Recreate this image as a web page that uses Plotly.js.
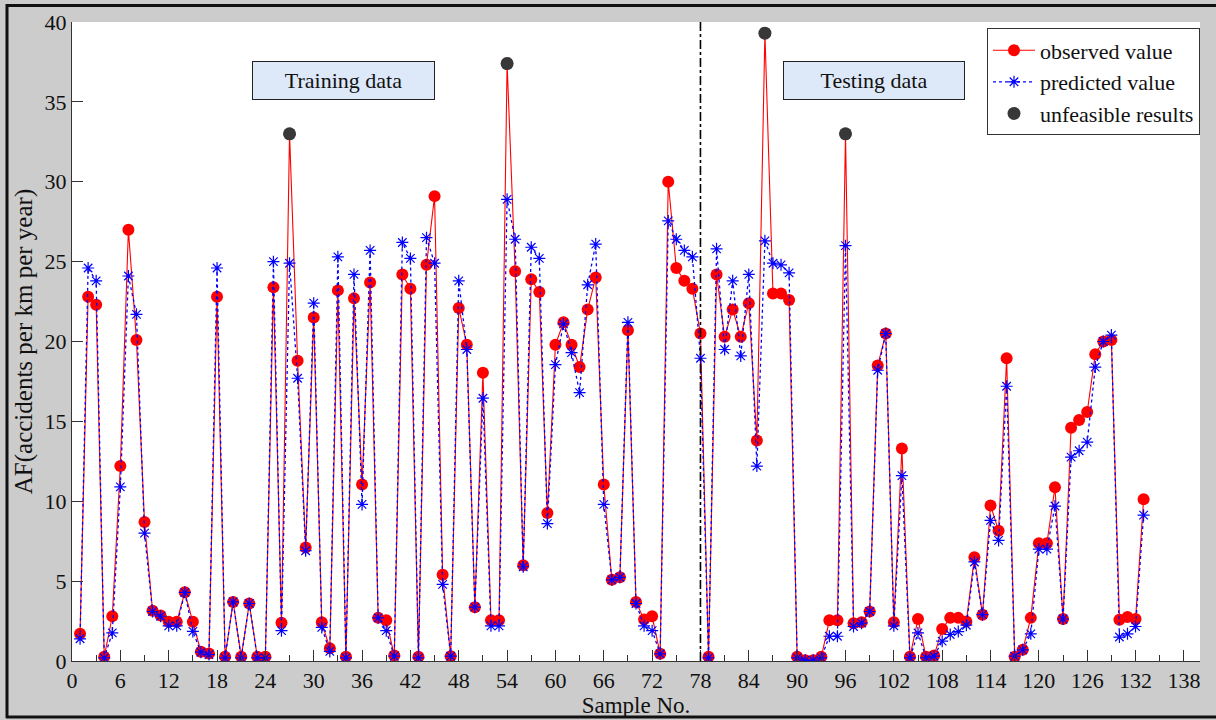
<!DOCTYPE html>
<html>
<head>
<meta charset="utf-8">
<script src="https://cdn.plot.ly/plotly-3.0.1.min.js"></script>
<style>
  html, body { margin: 0; padding: 0; background: #cccccc; }
  #chart { width: 1216px; height: 720px; }
</style>
</head>
<body>
<div id="chart"></div>
<script>
// Observed AF values, samples 1..133
const observed = [
  1.7, 22.8, 22.3, 0.26, 2.8, 12.2, 27.0, 20.1, 8.7, 3.15,
  2.85, 2.45, 2.45, 4.3, 2.45, 0.58, 0.47, 22.8, 0.26, 3.7,
  0.26, 3.6, 0.26, 0.26, 23.4, 2.4, 33.0, 18.8, 7.1, 21.5,
  2.42, 0.8, 23.2, 0.26, 22.7, 11.05, 23.7, 2.7, 2.55, 0.34,
  24.2, 23.3, 0.26, 24.8, 29.1, 5.4, 0.3, 22.1, 19.8, 3.37,
  18.05, 2.55, 2.55, 37.4, 24.4, 6.0, 23.9, 23.1, 9.26, 19.8,
  21.2, 19.8, 18.4, 22.0, 24.0, 11.05, 5.08, 5.24, 20.7, 3.7,
  2.6, 2.8, 0.45, 30.0, 24.6, 23.8, 23.3, 20.5, 0.26, 24.2,
  20.3, 22.0, 20.3, 22.4, 13.8, 39.3, 23.0, 23.0, 22.6, 0.26,
  0.05, 0.05, 0.26, 2.55, 2.55, 33.0, 2.37, 2.42, 3.1, 18.5,
  20.5, 2.42, 13.3, 0.26, 2.63, 0.26, 0.34, 2.0, 2.7, 2.7,
  2.47, 6.5, 2.9, 9.74, 8.16, 18.95, 0.26, 0.7, 2.7, 7.37,
  7.37, 10.87, 2.63, 14.6, 15.08, 15.58, 19.2, 20.0, 20.1, 2.58,
  2.76, 2.63, 10.13
];
// Predicted AF values, samples 1..133
const predicted = [
  1.39, 24.6, 23.8, 0.2, 1.76, 10.9, 24.1, 21.7, 8.0, 3.1,
  2.8, 2.2, 2.2, 4.3, 1.85, 0.55, 0.4, 24.6, 0.2, 3.7,
  0.2, 3.6, 0.2, 0.2, 25.0, 1.9, 24.9, 17.7, 6.9, 22.4,
  2.1, 0.6, 25.3, 0.2, 24.2, 9.8, 25.7, 2.7, 1.9, 0.3,
  26.2, 25.2, 0.2, 26.5, 24.9, 4.8, 0.3, 23.8, 19.5, 3.37,
  16.45, 2.2, 2.2, 28.9, 26.4, 5.9, 25.9, 25.2, 8.6, 18.55,
  21.1, 19.3, 16.8, 23.55, 26.1, 9.8, 5.08, 5.24, 21.2, 3.6,
  2.2, 1.9, 0.45, 27.55, 26.4, 25.7, 25.3, 18.95, 0.2, 25.8,
  19.5, 23.8, 19.1, 24.2, 12.2, 26.3, 24.9, 24.8, 24.3, 0.2,
  0.05, 0.05, 0.2, 1.55, 1.55, 26.0, 2.16, 2.37, 3.1, 18.2,
  20.5, 2.2, 11.6, 0.2, 1.76, 0.2, 0.3, 1.24, 1.66, 1.84,
  2.24, 6.2, 2.9, 8.8, 7.55, 17.2, 0.3, 0.7, 1.7, 7.0,
  7.0, 9.7, 2.63, 12.76, 13.16, 13.7, 18.4, 20.0, 20.4, 1.5,
  1.7, 2.16, 9.13
];
// Sample numbers whose observed values are unfeasible results
const unfeasibleSamples = [27, 54, 86, 96];
// Boundary between training and testing data
const splitSample = 78;
const yTickVals = [0, 5, 10, 15, 20, 25, 30, 35, 40];
const xTickVals = [0, 6, 12, 18, 24, 30, 36, 42, 48, 54, 60, 66, 72, 78, 84, 90, 96, 102, 108, 114, 120, 126, 132, 138];

const sampleNo = observed.map((_, i) => i + 1);
const unfeasibleVals = unfeasibleSamples.map(s => observed[s - 1]);

const serif = 'Liberation Serif, Times New Roman, serif';

const traces = [
  {
    x: sampleNo, y: observed, name: 'observed value', mode: 'lines+markers',
    line: { color: '#ff0000', width: 1.1 },
    marker: { color: '#ff0000', size: 12, symbol: 'circle' }
  },
  {
    x: sampleNo, y: predicted, name: 'predicted value', mode: 'lines+markers',
    line: { color: '#0000ff', width: 1.3, dash: 'dot' },
    marker: { color: '#0000ff', size: 10, symbol: 'asterisk-open', line: { color: '#0000ff', width: 1.2 } }
  },
  {
    x: unfeasibleSamples, y: unfeasibleVals, name: 'unfeasible results', mode: 'markers',
    marker: { color: '#383838', size: 13, symbol: 'circle' }
  }
];

// paper coordinate helpers for the outer frame (plot area 72..1200 x 22..661 px)
const px = v => (v - 72) / 1128;
const py = v => (661 - v) / 639;

const layout = {
  width: 1216, height: 720,
  margin: { l: 72, r: 16, t: 22, b: 59 },
  paper_bgcolor: '#cccccc',
  plot_bgcolor: '#ffffff',
  font: { family: serif, size: 20, color: '#111' },
  showlegend: true,
  legend: {
    x: 1.0, xanchor: 'right', y: 0.99, yanchor: 'top',
    bgcolor: '#ffffff', bordercolor: '#333', borderwidth: 1,
    font: { family: serif, size: 22, color: '#111' },
    itemwidth: 42,
    tracegroupgap: 0
  },
  xaxis: {
    range: [0, 140], tickvals: xTickVals, ticks: 'inside', ticklen: 11, tickcolor: '#333',
    showline: true, linecolor: '#333', linewidth: 1, mirror: false,
    showgrid: false, zeroline: false,
    tickfont: { family: serif, size: 22, color: '#111' },
    minor: { dtick: 3, ticks: 'inside', ticklen: 6, tickcolor: '#333', showgrid: false },
    title: { text: 'Sample No.', font: { family: serif, size: 23, color: '#111' }, standoff: 0 }
  },
  yaxis: {
    range: [0, 40], tickvals: yTickVals, ticks: 'inside', ticklen: 11, tickcolor: '#333',
    showline: true, linecolor: '#333', linewidth: 1, mirror: false,
    showgrid: false, zeroline: false,
    tickfont: { family: serif, size: 22, color: '#111' },
    title: { text: 'AF(accidents per km per year)', font: { family: serif, size: 25, color: '#111' }, standoff: 4 }
  },
  shapes: [
    { type: 'line', xref: 'x', yref: 'y', x0: splitSample, x1: splitSample, y0: 0, y1: 40,
      line: { color: '#000', width: 1.6, dash: 'dashdot' } },
    { type: 'line', xref: 'paper', yref: 'paper', x0: px(7), x1: px(7), y0: py(4), y1: py(718),
      line: { color: '#111', width: 3 } },
    { type: 'line', xref: 'paper', yref: 'paper', x0: px(6), x1: px(1216), y0: py(5.5), y1: py(5.5),
      line: { color: '#111', width: 3 } },
    { type: 'line', xref: 'paper', yref: 'paper', x0: px(6), x1: px(1216), y0: py(717), y1: py(717),
      line: { color: '#111', width: 3 } }
  ],
  annotations: [
    { text: 'Training data', xref: 'x', yref: 'y', x: 33.7, y: 36.34, showarrow: false,
      bgcolor: '#dde9f8', bordercolor: '#222', borderwidth: 1, borderpad: 0,
      width: 181, height: 37, font: { family: serif, size: 22, color: '#111' } },
    { text: 'Testing data', xref: 'x', yref: 'y', x: 99.5, y: 36.34, showarrow: false,
      bgcolor: '#dde9f8', bordercolor: '#222', borderwidth: 1, borderpad: 0,
      width: 180, height: 37, font: { family: serif, size: 22, color: '#111' } }
  ]
};

Plotly.newPlot('chart', traces, layout, { displayModeBar: false, staticPlot: true });
</script>
</body>
</html>
